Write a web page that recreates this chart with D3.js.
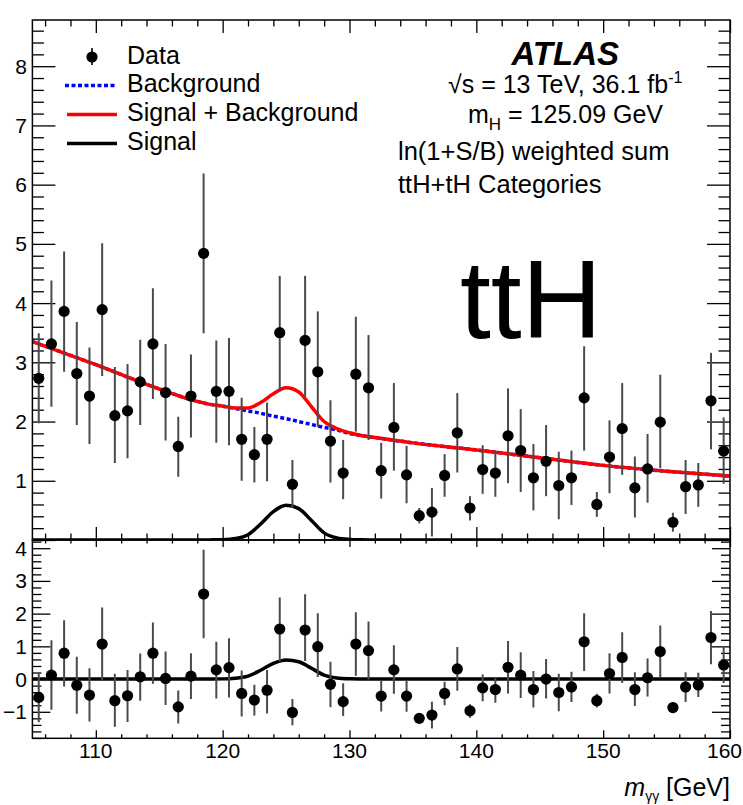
<!DOCTYPE html>
<html>
<head>
<meta charset="utf-8">
<script src="https://cdn.jsdelivr.net/npm/d3@7"></script>
<style>
  body { margin: 0; background: #fff; }
  svg { display: block; }
  text { font-family: "Liberation Sans", Arial, Helvetica, sans-serif; fill: #000; }
</style>
</head>
<body>
<svg id="chart" width="743" height="805"></svg>
<script>
// ---- Diphoton mass spectrum, ln(1+S/B) weighted, ttH+tH categories ----

// Bin centres (GeV), 1 GeV bins
const massCentres = [105.5,106.5,107.5,108.5,109.5,110.5,111.5,112.5,113.5,114.5,
  115.5,116.5,117.5,118.5,119.5,120.5,121.5,122.5,123.5,124.5,
  125.5,126.5,127.5,128.5,129.5,130.5,131.5,132.5,133.5,134.5,
  135.5,136.5,137.5,138.5,139.5,140.5,141.5,142.5,143.5,144.5,
  145.5,146.5,147.5,148.5,149.5,150.5,151.5,152.5,153.5,154.5,
  155.5,156.5,157.5,158.5,159.5];

// Weighted event yield per bin
const dataYield = [2.73,3.31,3.86,2.81,2.43,3.89,2.10,2.18,2.67,3.31,
  2.49,1.58,2.43,4.84,2.51,2.51,1.70,1.44,1.70,3.50,
  0.94,3.37,2.84,1.67,1.13,2.80,2.57,1.17,1.90,1.10,
  0.41,0.47,1.09,1.81,0.54,1.19,1.13,1.76,1.51,1.05,
  1.33,0.92,1.05,2.40,0.60,1.40,1.88,0.88,1.20,1.99,
  0.30,0.90,0.93,2.35,1.50];

// Upper and lower ends of the error bars
const errTop = [3.49,4.38,4.87,3.68,3.25,5.01,2.92,2.97,3.38,4.25,
  3.31,2.08,3.13,6.19,3.37,3.41,2.40,1.91,2.32,4.46,
  1.35,4.46,3.86,2.36,1.69,3.77,3.46,1.64,2.65,1.59,
  0.54,0.88,1.45,2.48,0.74,1.60,1.50,2.56,2.21,1.62,
  1.94,1.49,1.51,3.27,0.81,2.02,2.65,1.41,1.79,2.79,
  0.46,1.35,1.30,3.16,2.07];
const errBottom = [1.97,2.25,2.84,1.94,1.62,2.77,1.30,1.38,1.94,2.38,
  1.68,1.07,1.73,3.49,1.64,1.60,1.00,0.97,0.99,2.51,
  0.55,2.42,1.91,0.97,0.69,1.83,1.69,0.70,1.17,0.62,
  0.28,0.06,0.73,1.14,0.33,0.78,0.73,0.96,0.81,0.50,
  0.74,0.35,0.59,1.51,0.39,0.79,1.10,0.38,0.63,1.21,
  0.14,0.44,0.56,1.53,0.95];

// Data minus background (lower panel)
const residual = [-0.56,0.12,0.79,-0.19,-0.49,1.07,-0.66,-0.51,0.07,0.79,
  0.02,-0.85,0.09,2.60,0.28,0.35,-0.44,-0.64,-0.34,1.53,
  -1.02,1.50,0.99,-0.16,-0.69,1.07,0.87,-0.52,0.28,-0.52,
  -1.20,-1.10,-0.44,0.31,-0.97,-0.27,-0.32,0.36,0.12,-0.32,
  0.00,-0.41,-0.24,1.14,-0.66,0.17,0.66,-0.32,0.04,0.84,
  -0.87,-0.24,-0.18,1.27,0.43];

// Fitted model curves, sampled on a common mass grid
const curveMass   = [105,110,115,118,119,120,121,122,123,124,125,126,127,128,129,130,131,132,135,140,145,150,155,160];
const bkgCurve    = [3.35,2.96,2.55,2.34,2.29,2.26,2.22,2.18,2.14,2.09,2.05,2.00,1.95,1.90,1.86,1.80,1.76,1.73,1.64,1.52,1.39,1.26,1.16,1.08];
const sigBkgCurve = [3.35,2.96,2.55,2.34,2.29,2.26,2.23,2.23,2.32,2.47,2.57,2.50,2.25,2.00,1.88,1.81,1.76,1.73,1.64,1.52,1.39,1.26,1.16,1.08];
const sigCurve    = [0,0,0,0,0.002,0.006,0.025,0.09,0.27,0.48,0.585,0.53,0.33,0.12,0.035,0.01,0.003,0,0,0,0,0,0,0];

// Axis ticks
const xMajorTicks = [110,120,130,140,150,160];
const upperYLabels = [1,2,3,4,5,6,7,8];
const lowerYLabels = [-1,0,1,2,3,4];

const legendLabels = ["Data","Background","Signal + Background","Signal"];
const infoLines = ["ln(1+S/B) weighted sum","ttH+tH Categories"];

// ---- layout ----
const svg = d3.select("#chart");
const left = 32.4, right = 730;
const upTop = 20, split = 540, lowBottom = 738.3;

const x = d3.scaleLinear().domain([105,160]).range([left,right]);
const yU = d3.scaleLinear().domain([0,8.78]).range([split,upTop]);
const yL = d3.scaleLinear().domain([-1.81,4.25]).range([lowBottom,split]);

const defs = svg.append("defs");
defs.append("clipPath").attr("id","clipU").append("rect")
  .attr("x",left).attr("y",upTop).attr("width",right-left).attr("height",split-upTop);
defs.append("clipPath").attr("id","clipL").append("rect")
  .attr("x",left).attr("y",split).attr("width",right-left).attr("height",lowBottom-split);

const xMinor = d3.range(106,160,2).filter(v => !xMajorTicks.includes(v));
function tickGroup(axis, tx, ty) {
  const g = svg.append("g").attr("transform",`translate(${tx},${ty})`).call(axis);
  g.select(".domain").remove();
  g.selectAll("line").attr("stroke","#000").attr("stroke-width",1.3);
  g.selectAll("text").remove();
  return g;
}

// x ticks: upper panel (bottom pointing up, top pointing down)
tickGroup(d3.axisBottom(x).tickValues(xMajorTicks).tickSize(-13), 0, split);
tickGroup(d3.axisBottom(x).tickValues(xMinor).tickSize(-6.5), 0, split);
tickGroup(d3.axisTop(x).tickValues(xMajorTicks).tickSize(-13), 0, upTop);
tickGroup(d3.axisTop(x).tickValues(xMinor).tickSize(-6.5), 0, upTop);
// x ticks: lower panel
tickGroup(d3.axisTop(x).tickValues(xMajorTicks).tickSize(-7), 0, split);
tickGroup(d3.axisTop(x).tickValues(xMinor).tickSize(-3.5), 0, split);
tickGroup(d3.axisBottom(x).tickValues(xMajorTicks).tickSize(-8), 0, lowBottom);
tickGroup(d3.axisBottom(x).tickValues(xMinor).tickSize(-4), 0, lowBottom);

// y ticks: upper panel
const yUMajor = d3.range(0,9,1);
const yUMinor = d3.range(0,8.78,0.2).filter(v => Math.abs(v - Math.round(v)) > 0.01);
tickGroup(d3.axisLeft(yU).tickValues(yUMajor).tickSize(-23), left, 0);
tickGroup(d3.axisLeft(yU).tickValues(yUMinor).tickSize(-11.5), left, 0);
tickGroup(d3.axisRight(yU).tickValues(yUMajor).tickSize(-23), right, 0);
tickGroup(d3.axisRight(yU).tickValues(yUMinor).tickSize(-11.5), right, 0);
// y ticks: lower panel
const yLMajor = d3.range(-1,5,1);
const yLMinor = d3.range(-1.8,4.25,0.2).filter(v => Math.abs(v - Math.round(v)) > 0.01);
tickGroup(d3.axisLeft(yL).tickValues(yLMajor).tickSize(-18), left, 0);
tickGroup(d3.axisLeft(yL).tickValues(yLMinor).tickSize(-9), left, 0);
tickGroup(d3.axisRight(yL).tickValues(yLMajor).tickSize(-18), right, 0);
tickGroup(d3.axisRight(yL).tickValues(yLMinor).tickSize(-9), right, 0);

// tick labels
const fmtMinus = v => (v < 0 ? "\u2212" + Math.abs(v) : String(v));
svg.append("g").selectAll("text").data(upperYLabels).join("text")
  .attr("x",27).attr("y",d => yU(d)).attr("dy","0.36em")
  .attr("text-anchor","end").attr("font-size",21).text(d => d);
svg.append("g").selectAll("text").data(lowerYLabels).join("text")
  .attr("x",27).attr("y",d => yL(d)).attr("dy","0.36em")
  .attr("text-anchor","end").attr("font-size",21).text(fmtMinus);
// the last label sits at the window edge, so it is right-aligned to stay visible
svg.append("g").selectAll("text").data(xMajorTicks).join("text")
  .attr("x",d => d === 160 ? 742 : x(d)).attr("y",758)
  .attr("text-anchor",d => d === 160 ? "end" : "middle")
  .attr("font-size",21).text(d => d);

// axis title
const title = svg.append("text").attr("x",730).attr("y",796).attr("text-anchor","end").attr("font-size",25);
title.append("tspan").attr("font-style","italic").text("m");
title.append("tspan").attr("font-size",14).attr("dy",5).text("\u03b3\u03b3");
title.append("tspan").attr("dy",-5).text(" [GeV]");

// ---- curves ----
const lineU = () => d3.line().curve(d3.curveMonotoneX)
  .x((d,i) => x(curveMass[i])).y(d => yU(d));
const gU = svg.append("g").attr("clip-path","url(#clipU)");
gU.append("path").datum(sigCurve)
  .attr("d", lineU()).attr("fill","none").attr("stroke","#000").attr("stroke-width",3.5);
gU.append("path").datum(bkgCurve)
  .attr("d", lineU()).attr("fill","none").attr("stroke","#0000ff").attr("stroke-width",3.5)
  .attr("stroke-dasharray","4,2.5");
gU.append("path").datum(sigBkgCurve)
  .attr("d", lineU()).attr("fill","none").attr("stroke","#ff0000").attr("stroke-width",3.5);

const gL = svg.append("g").attr("clip-path","url(#clipL)");
gL.append("path").datum(sigCurve)
  .attr("d", d3.line().curve(d3.curveMonotoneX).x((d,i) => x(curveMass[i])).y(d => yL(d)))
  .attr("fill","none").attr("stroke","#000").attr("stroke-width",3.5);

// ---- data points ----
const pts = massCentres.map((m,i) => ({m, v: dataYield[i], hi: errTop[i], lo: errBottom[i], r: residual[i]}));
gU.append("g").selectAll("line").data(pts).join("line")
  .attr("x1",d => x(d.m)).attr("x2",d => x(d.m))
  .attr("y1",d => yU(d.hi)).attr("y2",d => yU(d.lo))
  .attr("stroke","#4a4a4a").attr("stroke-width",2);
gU.append("g").selectAll("circle").data(pts).join("circle")
  .attr("cx",d => x(d.m)).attr("cy",d => yU(d.v)).attr("r",5.6).attr("fill","#000");

gL.append("g").selectAll("line").data(pts).join("line")
  .attr("x1",d => x(d.m)).attr("x2",d => x(d.m))
  .attr("y1",d => yL(d.r + (d.hi - d.v))).attr("y2",d => yL(d.r - (d.v - d.lo)))
  .attr("stroke","#4a4a4a").attr("stroke-width",2);
gL.append("g").selectAll("circle").data(pts).join("circle")
  .attr("cx",d => x(d.m)).attr("cy",d => yL(d.r)).attr("r",5.6).attr("fill","#000");

// ---- frames ----
svg.append("rect").attr("x",left).attr("y",upTop).attr("width",right-left).attr("height",split-upTop)
  .attr("fill","none").attr("stroke","#000").attr("stroke-width",1.5);
svg.append("rect").attr("x",left).attr("y",split).attr("width",right-left).attr("height",lowBottom-split)
  .attr("fill","none").attr("stroke","#000").attr("stroke-width",1.5);

// ---- legend ----
const leg = svg.append("g");
const legY = [57, 85.5, 114.5, 143.5];
leg.append("line").attr("x1",92).attr("x2",92).attr("y1",48).attr("y2",65)
  .attr("stroke","#333").attr("stroke-width",2);
leg.append("circle").attr("cx",92).attr("cy",legY[0]).attr("r",5.6).attr("fill","#000");
leg.append("line").attr("x1",65).attr("x2",117).attr("y1",legY[1]).attr("y2",legY[1])
  .attr("stroke","#0000ff").attr("stroke-width",3.5).attr("stroke-dasharray","4,2.5");
leg.append("line").attr("x1",67).attr("x2",117).attr("y1",legY[2]).attr("y2",legY[2])
  .attr("stroke","#ff0000").attr("stroke-width",3.5);
leg.append("line").attr("x1",67).attr("x2",117).attr("y1",legY[3]).attr("y2",legY[3])
  .attr("stroke","#000").attr("stroke-width",3.5);
leg.selectAll("text").data(legendLabels).join("text")
  .attr("x",127).attr("y",(d,i) => legY[i] + 6.5).attr("font-size",25).text(d => d);

// ---- ATLAS label block ----
svg.append("text").attr("x",619).attr("y",65).attr("text-anchor","end")
  .attr("font-size",33).attr("font-weight","bold").attr("font-style","italic").text("ATLAS");
const lumi = svg.append("text").attr("x",448).attr("y",93).attr("font-size",25);
lumi.append("tspan").text("\u221as = 13 TeV, 36.1 fb");
lumi.append("tspan").attr("font-size",16).attr("dy",-10).text("-1");
const mh = svg.append("text").attr("x",468).attr("y",123).attr("font-size",25);
mh.append("tspan").text("m");
mh.append("tspan").attr("font-size",17).attr("dy",7).text("H");
mh.append("tspan").attr("dy",-7).text(" = 125.09 GeV");
svg.append("g").selectAll("text").data(infoLines).join("text")
  .attr("x",398).attr("y",(d,i) => 160 + i*33).attr("font-size",25.5).text(d => d);

// big process label
svg.append("text").attr("x",460).attr("y",338).attr("font-size",111).text("ttH");
</script>
</body>
</html>
